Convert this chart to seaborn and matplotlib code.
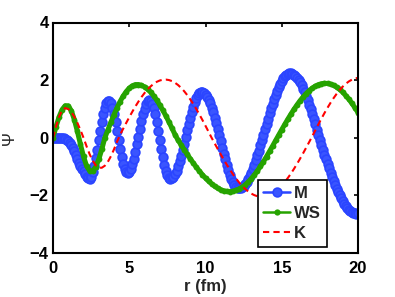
import numpy as np
import pandas as pd
import matplotlib
matplotlib.use("Agg")
import matplotlib.pyplot as plt
import seaborn as sns

# ---------------- data ----------------
r_M = np.round(np.arange(201) * 0.1, 1)
psi_M = [
    0.0, 0.0, 0.0, 0.0, 0.0, -0.01, -0.01, -0.02, -0.04, -0.07,
    -0.11, -0.17, -0.25, -0.35, -0.47, -0.6, -0.73, -0.86, -0.97, -1.07,
    -1.17, -1.27, -1.35, -1.40, -1.42, -1.35, -1.2, -0.98, -0.72, -0.41,
    -0.08, 0.25, 0.56, 0.825, 1.04, 1.19, 1.27, 1.27, 1.19, 1.03,
    0.81, 0.54, 0.24, -0.08, -0.39, -0.68, -0.92, -1.09, -1.195, -1.22,
    -1.18, -1.08, -0.925, -0.73, -0.49, -0.23, 0.04, 0.31, 0.57, 0.81,
    1.005, 1.16, 1.26, 1.30, 1.28, 1.18, 1.02, 0.81, 0.54, 0.25,
    -0.065, -0.38, -0.67, -0.94, -1.15, -1.31, -1.41, -1.43, -1.41, -1.35,
    -1.26, -1.14, -0.99, -0.82, -0.625, -0.42, -0.2, 0.03, 0.26, 0.48,
    0.69, 0.89, 1.07, 1.23, 1.365, 1.47, 1.54, 1.574, 1.58, 1.55,
    1.50, 1.42, 1.32, 1.19, 1.045, 0.88, 0.70, 0.50, 0.30, 0.09,
    -0.13, -0.34, -0.55, -0.75, -0.94, -1.12, -1.28, -1.42, -1.53, -1.63,
    -1.695, -1.735, -1.75, -1.74, -1.715, -1.67, -1.61, -1.535, -1.44, -1.335,
    -1.215, -1.08, -0.935, -0.78, -0.615, -0.443, -0.264, -0.081, 0.105, 0.292,
    0.478, 0.663, 0.843, 1.019, 1.187, 1.346, 1.497, 1.638, 1.766, 1.882,
    1.98, 2.065, 2.135, 2.186, 2.22, 2.238, 2.238, 2.223, 2.192, 2.147,
    2.087, 2.012, 1.924, 1.823, 1.709, 1.584, 1.447, 1.301, 1.146, 0.983,
    0.813, 0.639, 0.46, 0.277, 0.093, -0.084, -0.253, -0.42, -0.585, -0.748,
    -0.908, -1.065, -1.216, -1.363, -1.504, -1.64, -1.768, -1.889, -2.002, -2.107,
    -2.203, -2.29, -2.369, -2.438, -2.496, -2.544, -2.582, -2.608, -2.625, -2.63,
    -2.625,
]

r_WS = np.round(np.arange(101) * 0.2, 1)
psi_WS = [
    0.0, 0.387, 0.726, 0.979, 1.113, 1.108, 0.939, 0.628, 0.221, -0.228,
    -0.65, -0.973, -1.148, -1.152, -1.013, -0.752, -0.4, 0.0, 0.276, 0.545,
    0.803, 1.042, 1.258, 1.446, 1.602, 1.722, 1.804, 1.845, 1.847, 1.82,
    1.766, 1.687, 1.583, 1.456, 1.308, 1.141, 0.956, 0.76, 0.55, 0.333,
    0.112, -0.083, -0.249, -0.413, -0.573, -0.729, -0.879, -1.023, -1.158, -1.284,
    -1.401, -1.506, -1.6, -1.681, -1.749, -1.803, -1.843, -1.86, -1.87, -1.855,
    -1.82, -1.776, -1.714, -1.633, -1.535, -1.42, -1.291, -1.15, -0.994, -0.828,
    -0.652, -0.471, -0.285, -0.095, 0.094, 0.282, 0.466, 0.646, 0.82, 0.985,
    1.141, 1.286, 1.417, 1.534, 1.637, 1.723, 1.792, 1.843, 1.875, 1.889,
    1.884, 1.86, 1.817, 1.755, 1.675, 1.578, 1.465, 1.336, 1.194, 1.04,
    0.875,
]

r_K = np.round(np.arange(101) * 0.2, 1)
psi_K = [
    0.0, 0.394, 0.728, 0.952, 1.03, 0.995, 0.892, 0.728, 0.515, 0.267,
    0.0, -0.296, -0.568, -0.793, -0.955, -1.039, -1.041, -0.97, -0.833, -0.639,
    -0.402, -0.137, 0.104, 0.311, 0.514, 0.712, 0.903, 1.084, 1.253, 1.41,
    1.551, 1.676, 1.782, 1.871, 1.94, 1.987, 2.014, 2.019, 2.003, 1.966,
    1.908, 1.83, 1.732, 1.616, 1.482, 1.333, 1.169, 0.994, 0.808, 0.614,
    0.413, 0.208, 0.0, -0.195, -0.388, -0.577, -0.762, -0.939, -1.108, -1.267,
    -1.415, -1.549, -1.67, -1.775, -1.865, -1.937, -1.992, -2.029, -2.048, -2.048,
    -2.028, -1.99, -1.934, -1.859, -1.767, -1.658, -1.534, -1.396, -1.245, -1.081,
    -0.909, -0.727, -0.539, -0.345, -0.148, 0.052, 0.259, 0.463, 0.662, 0.856,
    1.04, 1.214, 1.376, 1.525, 1.658, 1.775, 1.874, 1.955, 2.016, 2.057,
    2.078,
]

series_labels = ["M", "WS", "K"]
x_ticks = [0, 5, 10, 15, 20]
y_ticks = [-4, -2, 0, 2, 4]
x_label = "r (fm)"
y_label = "Ψ"

assert len(psi_M) == len(r_M) and len(psi_WS) == len(r_WS) and len(psi_K) == len(r_K)

# ---------------- style ----------------
sns.set_style("white")
plt.rcParams["font.family"] = ["Liberation Sans", "DejaVu Sans"]
plt.rcParams["font.weight"] = "bold"

blue = "#2b45ff"
blue_face = "#3a55ff"
green = "#26a300"
red = "#ff0000"

fig = plt.figure(figsize=(3.95, 2.97), dpi=100)
ax = fig.add_axes([53 / 395, 1 - 253 / 297, 305 / 395, 230.5 / 297])

df_M = pd.DataFrame({"r": r_M, "psi": psi_M})
df_WS = pd.DataFrame({"r": r_WS, "psi": psi_WS})
df_K = pd.DataFrame({"r": r_K, "psi": psi_K})

sns.lineplot(data=df_M, x="r", y="psi", ax=ax, color=blue, linewidth=1.5,
             marker="o", markersize=6.3, markerfacecolor=blue_face,
             markeredgecolor=blue, markeredgewidth=1.2, label=series_labels[0],
             estimator=None)
sns.lineplot(data=df_WS, x="r", y="psi", ax=ax, color=green, linewidth=3.6,
             marker="o", markersize=4.2, markerfacecolor=green,
             markeredgecolor=green, markeredgewidth=0, label=series_labels[1],
             estimator=None)
sns.lineplot(data=df_K, x="r", y="psi", ax=ax, color=red, linewidth=1.5,
             linestyle=(0, (3, 2)), label=series_labels[2], estimator=None)

ax.set_xlim(0, 20)
ax.set_ylim(-4, 4)
ax.set_xticks(x_ticks)
ax.set_yticks(y_ticks)
ax.tick_params(direction="in", length=3, width=1.2, top=True, right=True,
               labelsize=12, colors="black")
ax.tick_params(axis="x", pad=6)
ax.tick_params(axis="y", pad=3)
for s in ax.spines.values():
    s.set_color("black")
    s.set_linewidth(1.5)

ax.set_xlabel(x_label, fontsize=12, fontweight="bold", labelpad=2)
ax.set_ylabel(y_label, fontsize=12, fontweight="normal")
ax.yaxis.set_label_coords(-0.118, 0.5)

leg = ax.legend(loc="lower right", bbox_to_anchor=(0.898, 0.026),
                borderaxespad=0, fancybox=False, framealpha=1,
                edgecolor="black", fontsize=12, handlelength=1.6,
                handletextpad=0.25, labelspacing=0.3, borderpad=0.35)
leg.get_frame().set_linewidth(1.2)
handles = leg.legend_handles
handles[0].set_linewidth(1.8)
handles[1].set_linewidth(1.8)
handles[1].set_markersize(4.5)

fig.savefig("out.png", dpi=100)
